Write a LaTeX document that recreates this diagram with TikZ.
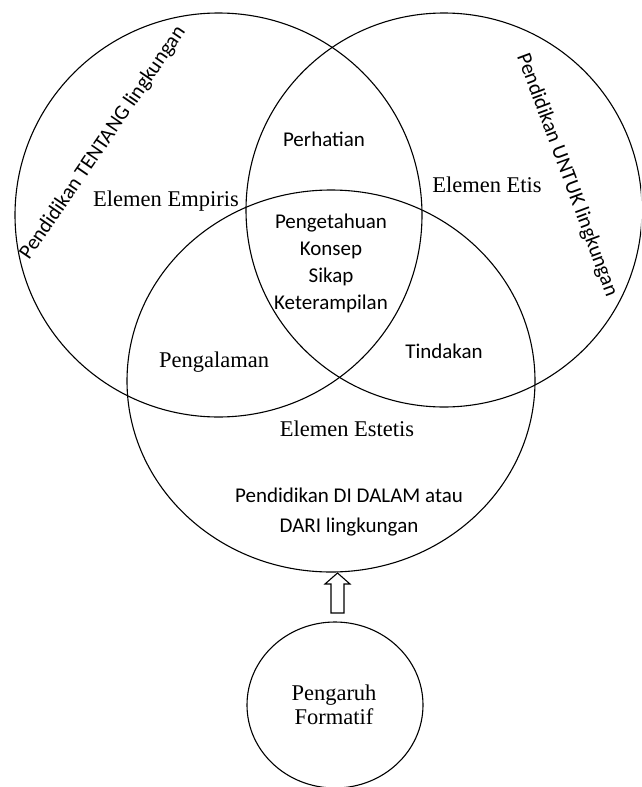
\documentclass[tikz,border=0pt]{standalone}
\usepackage{fontspec}
\setmainfont{Liberation Serif}
\newfontfamily\calib{Carlito}
\usetikzlibrary{shapes.geometric,calc}
\begin{document}
\begin{tikzpicture}[x=1pt,y=-1pt,
  ring/.style={draw, line width=1.1pt, ellipse, inner sep=0pt},
  sans/.style={font=\calib\fontsize{21}{27}\selectfont, align=center, inner sep=0pt},
  serif/.style={font=\fontsize{22.5}{24}\selectfont, align=center, inner sep=0pt}]
\useasboundingbox (0,0) rectangle (641,787);
\clip (0,0) rectangle (641,787);
% circles
\node[ring, minimum width=407pt, minimum height=404pt] (tentang) at (218.5,215) {};
\node[ring, minimum width=396pt, minimum height=394pt] (untuk) at (444,210) {};
\node[ring, minimum width=408pt, minimum height=382pt] (dalam) at (331,381) {};
\node[ring, minimum width=176pt, minimum height=166pt] (formatif) at (335,705) {};
% labels
\node[sans, rotate=55.6] (tTentang) at (103,143) {Pendidikan TENTANG lingkungan};
\node[sans, rotate=-69.6] (tUntuk) at (567,175) {Pendidikan UNTUK lingkungan};
\node[serif] (tEmpiris) at (166,201) {Elemen Empiris};
\node[serif] (tEtis) at (487,185) {Elemen Etis};
\node[serif] (tPengalaman) at (214,362) {Pengalaman};
\node[sans] (tPerhatian) at (324,139) {Perhatian};
\node[sans] (tInti) at (331,263) {Pengetahuan\\Konsep\\Sikap\\Keterampilan};
\node[sans] (tTindakan) at (444,351) {Tindakan};
\node[serif] (tEstetis) at (347,429) {Elemen Estetis};
\node[sans, font=\calib\fontsize{21}{30}\selectfont] (tDalam) at (349,512) {Pendidikan DI DALAM atau\\DARI lingkungan};
\node[serif] (tFormatif) at (334,705) {Pengaruh\\Formatif};
% hollow arrow
\coordinate (tip) at (337.5,573);
\coordinate (tail) at (337.5,613);
\draw[line width=1.1pt, line join=miter] (tip) -- ($(tip)+(12.5,11)$) -- ($(tip)+(6.5,11)$) -- ($(tail)+(6.5,0)$) -- ($(tail)+(-6.5,0)$) -- ($(tip)+(-6.5,11)$) -- ($(tip)+(-12.5,11)$) -- cycle;
\end{tikzpicture}
\end{document}
